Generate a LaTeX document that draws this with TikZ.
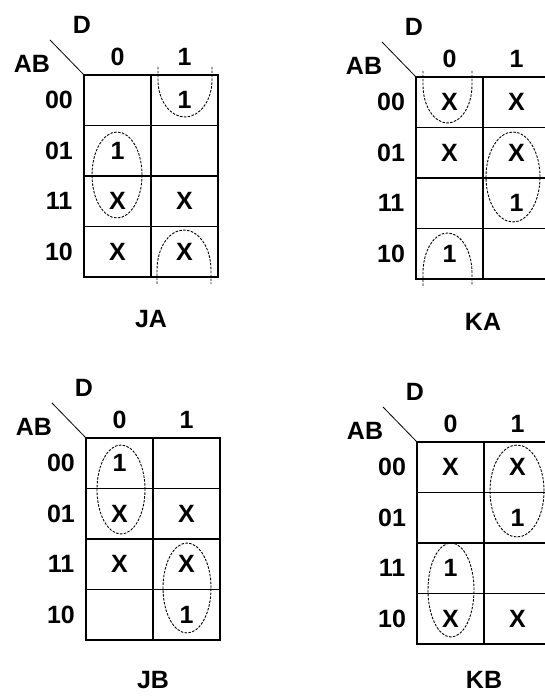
\documentclass[tikz,border=0pt]{standalone}
\usepackage{fontspec}
\setmainfont{Liberation Sans}
\usepackage{tikz}
\tikzset{
    cellgrid/.style={line width=1.6pt},
    loopline/.style={line width=0.9pt, dash pattern=on 2.5pt off 1.4pt},
    entry/.style={font=\fontsize{25}{29}\selectfont\bfseries},
}

\begin{document}
\begin{tikzpicture}[x=1pt, y=1pt]
    \useasboundingbox (0,0) rectangle (545,696);
    % the four maps: origin of each is the top left corner of its grid
    \foreach \name/\px/\py/\ty in {JA/84/621/244, KA/416/619/245, JB/86/258/242, KB/417/254/238} {
        \begin{scope}[shift={(\px,\py)}]
            \draw[cellgrid] (0,0) rectangle (134,-202);
            \draw[cellgrid] (67,0) -- (67,-202);
            \foreach \r in {1,2,3}
                \draw[cellgrid] (0,-\r*50.5) -- (134,-\r*50.5);
            \draw[line width=0.8pt] (-34,35) -- (0,0);
            \node[entry] (\name-d) at (-2,50) {D};
            \node[entry] (\name-ab) at (-52,11) {AB};
            \node[entry] (\name-c0) at (33.5,18) {0};
            \node[entry] (\name-c1) at (100.5,18) {1};
            \foreach \lbl [count=\r from 0] in {00,01,11,10}
                \node[entry] (\name-r\r) at (-25,-25.25-\r*50.5) {\lbl};
            \node[entry] (\name-title) at (67,-\ty) {\name};
        \end{scope}
    }
    % JA
    \begin{scope}[shift={(84,621)}]
        \foreach \c/\r/\v in {1/0/1, 0/1/1, 0/2/X, 1/2/X, 0/3/X, 1/3/X}
            \node[entry] (ja-\c\r) at (33.5+\c*67,-25.25-\r*50.5) {\v};
        \draw[loopline] (33,-100) ellipse [x radius=25, y radius=43];
        \draw[loopline] (74,8) -- (74,-5) arc[start angle=180, end angle=360, x radius=27, y radius=37] -- (128,8);
        \draw[loopline] (73,-209) -- (73,-195) arc[start angle=180, end angle=0, x radius=27, y radius=40] -- (127,-209);
    \end{scope}
    % KA
    \begin{scope}[shift={(416,619)}]
        \foreach \c/\r/\v in {0/0/X, 1/0/X, 0/1/X, 1/1/X, 1/2/1, 0/3/1}
            \node[entry] (ka-\c\r) at (33.5+\c*67,-25.25-\r*50.5) {\v};
        \draw[loopline] (7,6) -- (7,-8) arc[start angle=180, end angle=360, x radius=24.5, y radius=38] -- (56,6);
        \draw[loopline] (97,-100) ellipse [x radius=27, y radius=45];
        \draw[loopline] (7,-209) -- (7,-196) arc[start angle=180, end angle=0, x radius=24.5, y radius=40] -- (56,-209);
    \end{scope}
    % JB
    \begin{scope}[shift={(86,258)}]
        \foreach \c/\r/\v in {0/0/1, 0/1/X, 1/1/X, 0/2/X, 1/2/X, 1/3/1}
            \node[entry] (jb-\c\r) at (33.5+\c*67,-25.25-\r*50.5) {\v};
        \draw[loopline] (35,-51.5) ellipse [x radius=24, y radius=44.5];
        \draw[loopline] (101,-150) ellipse [x radius=24, y radius=45];
    \end{scope}
    % KB
    \begin{scope}[shift={(417,254)}]
        \foreach \c/\r/\v in {0/0/X, 1/0/X, 1/1/1, 0/2/1, 0/3/X, 1/3/X}
            \node[entry] (kb-\c\r) at (33.5+\c*67,-25.25-\r*50.5) {\v};
        \draw[loopline] (100,-49) ellipse [x radius=27, y radius=46];
        \draw[loopline] (34,-148) ellipse [x radius=23, y radius=47];
    \end{scope}
\end{tikzpicture}
\end{document}
